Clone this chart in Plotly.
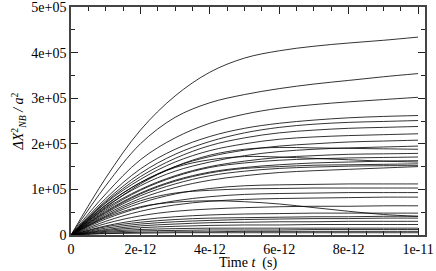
import plotly.graph_objects as go

# time samples (ps) and curves (values in units of 1e3 a^2)
t_ps = [0, 1, 2, 3, 4, 5, 6, 7, 8, 9, 10]
curves_k = [
    [0, 125, 230, 305, 357, 388, 404, 414, 421, 427, 434],
    [0, 108, 200, 258, 290, 308, 321, 331, 339, 347, 354],
    [0, 90, 165, 213, 245, 265, 278, 286, 292, 297, 302],
    [0, 80, 145, 188, 216, 234, 245, 252, 257, 260, 262],
    [0, 75, 135, 177, 205, 224, 236, 243, 247, 249, 251],
    [0, 72, 128, 168, 196, 213, 224, 230, 234, 236, 238],
    [0, 70, 122, 160, 185, 200, 210, 215, 218, 220, 222],
    [0, 66, 115, 150, 172, 186, 195, 200, 204, 206, 208],
    [0, 62, 108, 140, 160, 174, 183, 188, 191, 193, 195],
    [0, 60, 112, 150, 175, 188, 192, 191, 190, 189, 188],
    [0, 58, 100, 130, 150, 162, 170, 174, 177, 178, 179],
    [0, 55, 98, 128, 148, 158, 164, 167, 169, 170, 171],
    [0, 52, 92, 120, 138, 148, 154, 158, 160, 162, 163],
    [0, 50, 90, 118, 136, 146, 150, 153, 154, 155, 156],
    [0, 48, 86, 112, 130, 140, 146, 149, 151, 152, 152],
    [0, 65, 115, 148, 165, 172, 171, 168, 165, 162, 160],
    [0, 45, 80, 104, 120, 130, 137, 141, 144, 147, 150],
    [0, 40, 70, 90, 102, 108, 110, 111, 112, 112, 112],
    [0, 42, 75, 92, 98, 101, 102, 103, 103, 103, 103],
    [0, 35, 60, 75, 84, 89, 91, 92, 93, 93, 93],
    [0, 30, 52, 66, 74, 78, 80, 81, 82, 83, 83],
    [0, 38, 62, 72, 75, 73, 68, 60, 52, 45, 41],
    [0, 25, 42, 52, 57, 60, 62, 63, 63, 64, 64],
    [0, 20, 33, 40, 44, 46, 47, 48, 48, 48, 48],
    [0, 18, 28, 34, 37, 38, 39, 40, 40, 41, 41],
    [0, 15, 24, 29, 32, 34, 35, 36, 36, 37, 37],
    [0, 12, 20, 24, 27, 28, 29, 29, 30, 30, 30],
    [0, 10, 16, 19, 21, 22, 22, 23, 23, 23, 23],
    [0, 8, 12, 14, 15, 15, 15, 15, 15, 15, 15],
    [0, 6, 9, 10, 11, 11, 11, 12, 12, 12, 12],
    [0, 4, 6, 7, 7, 8, 8, 8, 8, 8, 8],
    [0, 3, 4, 5, 5, 5, 5, 5, 5, 5, 5],
]
x_tickvals = [0, 2e-12, 4e-12, 6e-12, 8e-12, 1e-11]
x_ticktext = ["0", "2e-12", "4e-12", "6e-12", "8e-12", "1e-11"]
y_tickvals = [0, 1e5, 2e5, 3e5, 4e5, 5e5]
y_ticktext = ["0", "1e+05", "2e+05", "3e+05", "4e+05", "5e+05"]

t = [v * 1e-12 for v in t_ps]
fig = go.Figure()
for c in curves_k:
    fig.add_trace(go.Scatter(x=t, y=[v * 1e3 for v in c], mode="lines",
                             line=dict(color="black", width=0.8, shape="spline", smoothing=1.0),
                             showlegend=False, hoverinfo="skip"))

font = dict(family="Liberation Serif, Times New Roman, serif", size=14, color="black")
axcommon = dict(showline=True, linecolor="#444", linewidth=1.5, mirror="ticks",
                ticks="inside", ticklen=7, tickwidth=1.2, tickcolor="#222",
                showgrid=False, zeroline=False, tickfont=font, automargin=False,
                ticklabeloverflow="allow")
fig.update_xaxes(range=[0, 1.02e-11], tickvals=x_tickvals, ticktext=x_ticktext,
                 minor=dict(ticks="inside", ticklen=4, dtick=0.5e-12, tick0=0, tickcolor="#222", showgrid=False),
                 title=dict(text="Time <i>t</i>  (s)", font=font, standoff=0), **axcommon)
fig.update_yaxes(range=[0, 5e5], tickvals=y_tickvals, ticktext=y_ticktext,
                 minor=dict(ticks="inside", ticklen=4, dtick=5e4, tick0=0, tickcolor="#222", showgrid=False),
                 title=dict(text="<i>ΔX</i><sup>2</sup><sub><i>NB</i></sub><i> / a</i><sup>2</sup>", font=font, standoff=4),
                 **axcommon)
fig.update_layout(width=436, height=271, margin=dict(l=71, r=11, t=7, b=36),
                  plot_bgcolor="white", paper_bgcolor="white", font=font)
fig.write_html("out.html", config={"displayModeBar": False},
               post_script="document.body.style.margin='0';document.body.style.overflow='hidden';")
